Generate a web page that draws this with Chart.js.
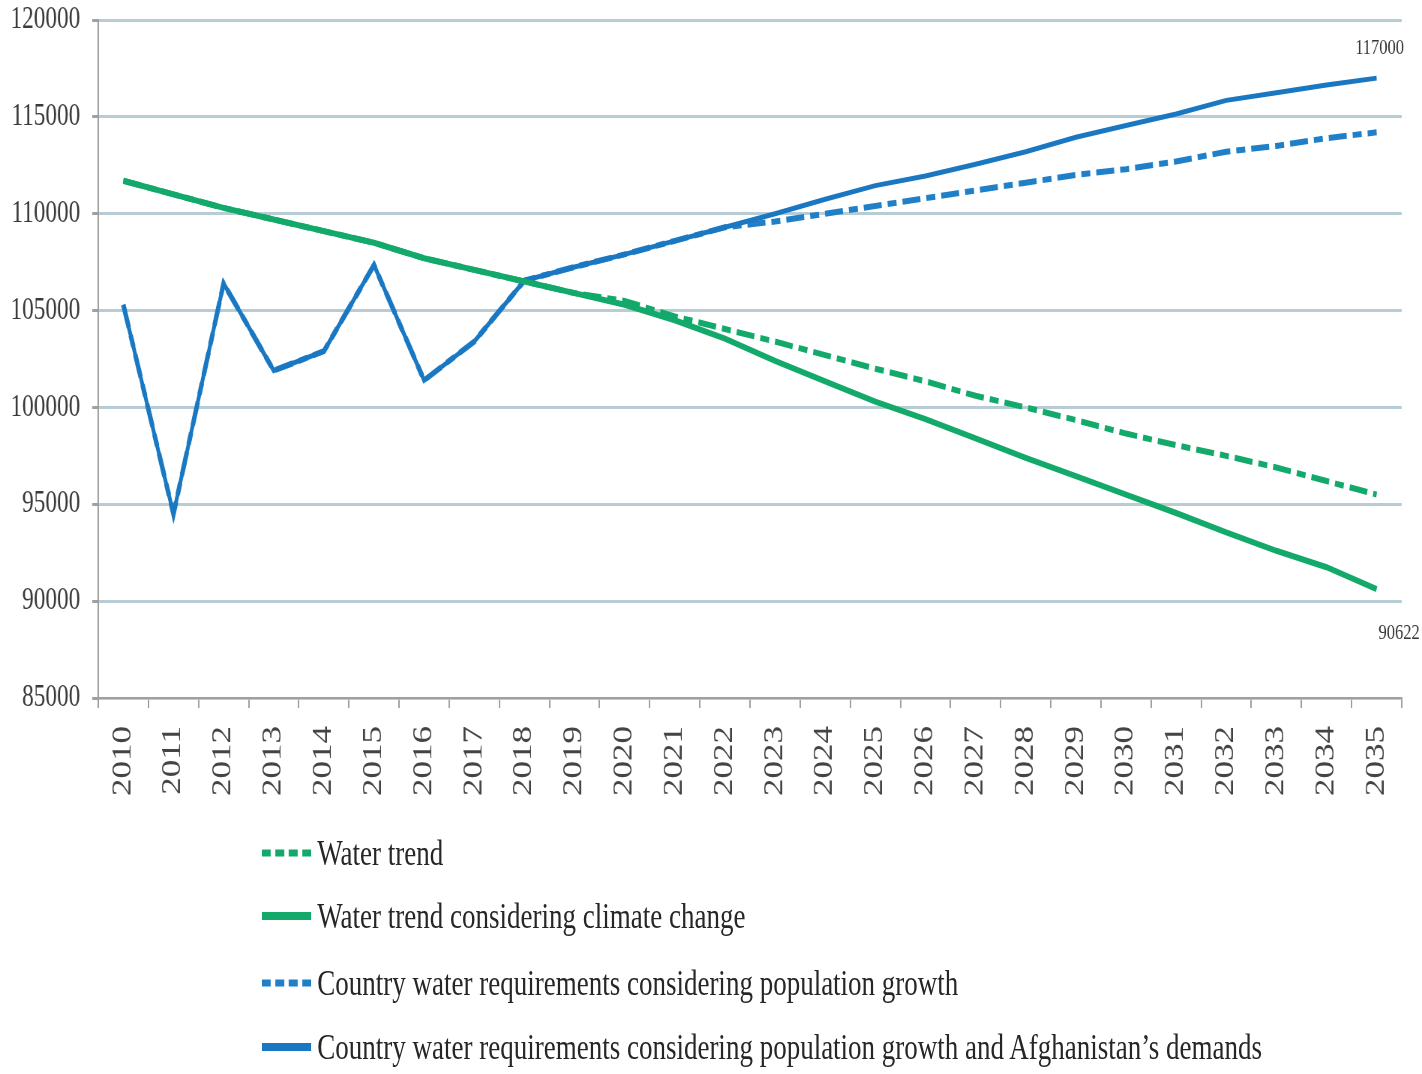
<!DOCTYPE html>
<html>
<head>
<meta charset="utf-8">
<script src="https://cdn.jsdelivr.net/npm/chart.js@4/dist/chart.umd.min.js"></script>
<style>
  html, body { margin: 0; padding: 0; background: #ffffff; overflow: hidden; }
  #wrap { position: absolute; left: 0; top: 0; width: 1896px; height: 1074px; transform: scaleX(0.75); transform-origin: 0 0; }
  #box { position: absolute; left: 0; top: 0; width: 1896px; height: 1074px; }
  #legend { position: absolute; left: 349px; top: 0; font-family: 'Liberation Serif', serif; font-size: 36px; color: #262626; }
  .item { position: absolute; left: 0; white-space: nowrap; display: flex; align-items: center; height: 44px; }
  .item svg { width: 66px; height: 12px; margin-right: 8px; }
</style>
</head>
<body>
<div id="wrap">
  <div id="box"><canvas id="c"></canvas></div>
  <div id="legend"></div>
</div>
<script>
const years = ['2010','2011','2012','2013','2014','2015','2016','2017','2018','2019','2020','2021','2022','2023','2024','2025','2026','2027','2028','2029','2030','2031','2032','2033','2034','2035'];
const waterTrend = [111700,111000,110300,109700,109100,108500,107700,107100,106500,105900,105500,104700,104050,103400,102700,102000,101350,100600,100000,99350,98650,98050,97500,96900,96200,95500];
const waterClimate = [111700,111000,110300,109700,109100,108500,107700,107100,106500,105900,105300,104500,103550,102400,101350,100300,99400,98400,97400,96450,95500,94550,93550,92600,91750,90622];
const reqPopulation = [105300,94500,106400,101900,102900,107350,101400,103400,106550,107250,107900,108600,109300,109600,110000,110400,110800,111200,111600,112000,112300,112700,113200,113500,113900,114200];
const reqAfghanistan = [105300,94500,106400,101900,102900,107350,101400,103400,106550,107250,107900,108600,109300,110000,110750,111450,111950,112550,113200,113950,114550,115150,115850,116250,116650,117000];
const seriesNames = ['Water trend','Water trend considering climate change','Country water requirements considering population growth','Country water requirements considering population growth and Afghanistan\u2019s demands'];
const yMin = 85000, yMax = 120000, yStep = 5000;

const GREEN = '#12a96a';
const BLUE = '#1a78c2';
const BLUE_D = '#1f80c8';
const dashPattern = [24, 8, 12, 8];

const endLabels = {
  id: 'endLabels',
  afterDatasetsDraw(chart) {
    const ctx = chart.ctx;
    ctx.save();
    ctx.font = '22px "Liberation Serif", serif';
    ctx.fillStyle = '#333333';
    ctx.textAlign = 'center';
    ctx.textBaseline = 'middle';
    const pA = chart.getDatasetMeta(3).data[reqAfghanistan.length - 1];
    ctx.fillText(String(reqAfghanistan[reqAfghanistan.length - 1]), pA.x + 4, pA.y - 30);
    const pC = chart.getDatasetMeta(1).data[waterClimate.length - 1];
    ctx.fillText(String(waterClimate[waterClimate.length - 1]), pC.x + 30, pC.y + 44);
    ctx.restore();
  }
};

new Chart(document.getElementById('c'), {
  type: 'line',
  data: {
    labels: years,
    datasets: [
      { label: seriesNames[0], data: waterTrend, borderColor: GREEN, borderWidth: 6, borderDash: dashPattern, pointRadius: 0, fill: false, tension: 0, order: 2 },
      { label: seriesNames[1], data: waterClimate, borderColor: GREEN, borderWidth: 6, pointRadius: 0, fill: false, tension: 0, order: 1 },
      { label: seriesNames[2], data: reqPopulation, borderColor: BLUE_D, borderWidth: 6, borderDash: dashPattern, pointRadius: 0, fill: false, tension: 0, order: 2 },
      { label: seriesNames[3], data: reqAfghanistan, borderColor: BLUE, borderWidth: 5, pointRadius: 0, fill: false, tension: 0, order: 1 }
    ]
  },
  options: {
    responsive: true,
    maintainAspectRatio: false,
    animation: false,
    layout: { padding: { top: 20, bottom: 266, left: 1, right: 25 } },
    plugins: { legend: { display: false }, tooltip: { enabled: false } },
    scales: {
      x: {
        type: 'category',
        offset: true,
        afterFit(scale) { scale.height = 110; },
        grid: { display: true, drawOnChartArea: false, drawTicks: true, tickLength: 10, color: '#a0a0a0', lineWidth: 2, offset: true },
        border: { display: true, color: '#a0a0a0', width: 2 },
        ticks: { autoSkip: false, minRotation: 90, maxRotation: 90, padding: 18, color: '#444444', font: { family: '"Liberation Serif", serif', size: 35 } }
      },
      y: {
        min: yMin,
        max: yMax,
        afterFit(scale) { scale.width = 130; scale.paddingTop = 0; scale.paddingBottom = 0; },
        grid: { color: 'rgba(170,195,205,0.85)', lineWidth: 3, drawTicks: true, tickLength: 8, tickColor: '#a0a0a0' },
        border: { display: true, color: '#a0a0a0', width: 2 },
        ticks: { stepSize: yStep, padding: 16, color: '#3a3a3a', font: { family: '"Liberation Serif", serif', size: 31 }, callback: (v) => String(v) }
      }
    }
  },
  plugins: [endLabels]
});

// HTML legend built from the series names
const legendStyles = [
  { color: GREEN, dash: '12,6', width: 7 },
  { color: GREEN, dash: '', width: 8 },
  { color: BLUE_D, dash: '12,6', width: 7 },
  { color: BLUE, dash: '', width: 8 }
];
const rowCenters = [853, 916, 983, 1047];
const legend = document.getElementById('legend');
seriesNames.forEach((name, i) => {
  const s = legendStyles[i];
  const div = document.createElement('div');
  div.className = 'item';
  div.style.top = (rowCenters[i] - 22) + 'px';
  div.innerHTML = '<svg viewBox="0 0 66 12"><line x1="0" y1="6" x2="66" y2="6" stroke="' + s.color + '" stroke-width="' + s.width + '"' + (s.dash ? ' stroke-dasharray="' + s.dash + '"' : '') + '/></svg>';
  const span = document.createElement('span');
  span.textContent = name;
  div.appendChild(span);
  legend.appendChild(div);
});
</script>
</body>
</html>
